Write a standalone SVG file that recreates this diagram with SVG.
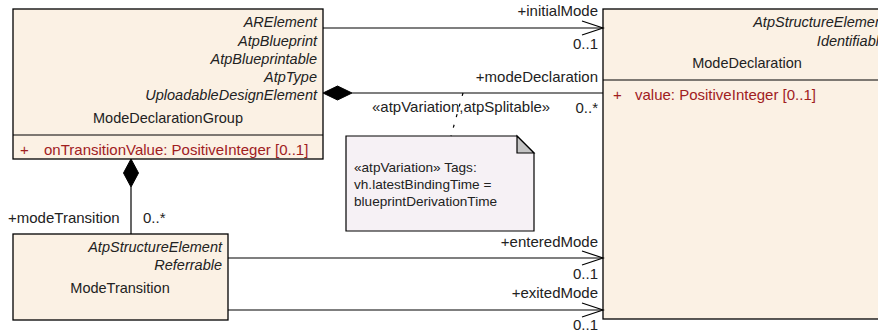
<svg xmlns="http://www.w3.org/2000/svg" width="878" height="332" viewBox="0 0 878 332">
<style>
.box{fill:#FBF1E4;stroke:#000;stroke-width:1.3}
.sep{stroke:#000;stroke-width:1.2}
text{font-family:"Liberation Sans",Arial,sans-serif;font-size:14.5px;fill:#222}
.it{font-style:italic;text-anchor:end}
.nm{text-anchor:middle}
.at{fill:#A0201E;font-size:15px}
.lbl{text-anchor:end;font-size:15px}
.cl{font-size:15px}
.ln{stroke:#000;stroke-width:1.2;fill:none}
.note{fill:#F6F1F5;stroke:#000;stroke-width:1.2}
.nt{font-size:13.6px}
</style>
<defs>
<marker id="open" markerWidth="24" markerHeight="18" refX="22" refY="8" orient="auto" markerUnits="userSpaceOnUse">
<path d="M1,1 L22,8 L1,15" fill="none" stroke="#000" stroke-width="1.2"/>
</marker>
</defs>
<g id="ModeDeclarationGroup">
<rect class="box" x="13" y="9" width="310" height="150"/>
<line class="sep" x1="13" y1="135" x2="323" y2="135"/>
<text class="it" x="317" y="27">ARElement</text>
<text class="it" x="317" y="46">AtpBlueprint</text>
<text class="it" x="317" y="64">AtpBlueprintable</text>
<text class="it" x="317" y="82">AtpType</text>
<text class="it" x="317" y="100">UploadableDesignElement</text>
<text class="nm" x="168" y="123">ModeDeclarationGroup</text>
<text class="at" x="20" y="155">+</text>
<text class="at" x="44" y="155">onTransitionValue: PositiveInteger [0..1]</text>
</g>
<g id="ModeDeclaration">
<rect class="box" x="603" y="9" width="290" height="310"/>
<line class="sep" x1="603" y1="80" x2="893" y2="80"/>
<text class="it" x="887" y="27">AtpStructureElement</text>
<text class="it" x="887" y="46">Identifiable</text>
<text class="nm" x="747" y="68">ModeDeclaration</text>
<text class="at" x="613" y="100">+</text>
<text class="at" x="635" y="100">value: PositiveInteger [0..1]</text>
</g>
<g id="ModeTransition">
<rect class="box" x="13" y="234" width="215" height="86"/>
<text class="it" x="222" y="252">AtpStructureElement</text>
<text class="it" x="222" y="270">Referrable</text>
<text class="nm" x="120" y="293">ModeTransition</text>
</g>
<g id="Note">
<path class="note" d="M346,136 H517 L534,153 V231 H346 Z"/>
<path d="M517,136 L534,153 H517 Z" fill="#C4C4C4" stroke="#000" stroke-width="1.2"/>
<text class="nt" x="354" y="172">«atpVariation» Tags:</text>
<text class="nt" x="354" y="189">vh.latestBindingTime =</text>
<text class="nt" x="354" y="206">blueprintDerivationTime</text>
</g>
<g id="connectors">
<line class="ln" x1="323" y1="28" x2="603" y2="28" marker-end="url(#open)"/>
<text class="lbl" x="598" y="16">+initialMode</text>
<text class="lbl" x="598" y="49">0..1</text>
<line class="ln" x1="352" y1="93" x2="603" y2="93"/>
<path d="M323,93 L337.5,86 L352,93 L337.5,100 Z" fill="#000" stroke="#000"/>
<text class="lbl" x="598" y="82">+modeDeclaration</text>
<text class="lbl" x="598" y="113">0..*</text>
<text class="cl" x="372" y="112">«atpVariation,atpSplitable»</text>
<line class="ln" x1="463" y1="93" x2="451" y2="136" stroke-dasharray="3,8"/>
<line class="ln" x1="131" y1="187" x2="131" y2="234"/>
<path d="M131,159 L138.5,173 L131,187 L123.5,173 Z" fill="#000" stroke="#000"/>
<text class="cl" x="8" y="223">+modeTransition</text>
<text class="cl" x="143" y="223">0..*</text>
<line class="ln" x1="228" y1="258" x2="603" y2="258" marker-end="url(#open)"/>
<text class="lbl" x="598" y="247">+enteredMode</text>
<text class="lbl" x="598" y="279">0..1</text>
<line class="ln" x1="228" y1="310" x2="603" y2="310" marker-end="url(#open)"/>
<text class="lbl" x="598" y="298">+exitedMode</text>
<text class="lbl" x="598" y="330">0..1</text>
</g>
</svg>
